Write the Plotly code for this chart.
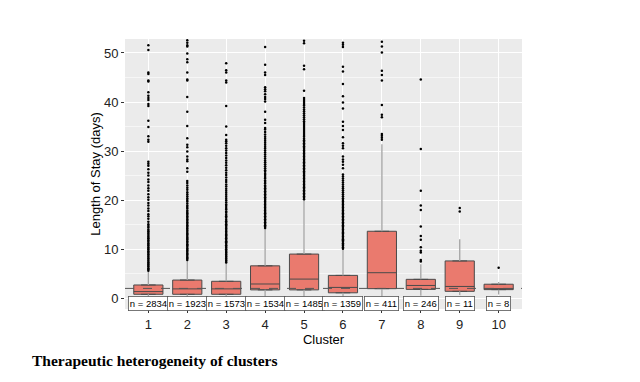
import plotly.graph_objects as go

clusters = [1, 2, 3, 4, 5, 6, 7, 8, 9, 10]
tick_labels = ["1", "2", "3", "4", "5", "6", "7", "8", "9", "10"]
counts = [2834, 1923, 1573, 1534, 1485, 1359, 411, 246, 11, 8]

q1 = [0.8, 0.8, 0.8, 1.7, 1.7, 1.1, 1.95, 1.8, 1.4, 1.75]
median = [1.35, 1.9, 1.9, 2.9, 3.9, 2.2, 5.2, 2.6, 2.4, 1.9]
q3 = [2.7, 3.7, 3.45, 6.6, 9.0, 4.65, 13.65, 3.85, 7.6, 2.85]
lower_whisker = [0.0, 0.0, 0.0, 0.0, 0.0, 0.0, 0.0, 0.5, 0.6, 0.75]
upper_whisker = [5.5, 7.7, 7.2, 14.2, 20.0, 10.0, 31.4, 6.9, 12.0, 3.3]

overall_median = 2.0

out_c1 = [5.6, 5.9, 6.1, 6.4, 6.6, 6.9, 7.2, 7.4, 7.7, 8.0, 8.2, 8.5, 8.8, 9.0, 9.3, 9.6, 9.9, 10.1,
          10.4, 10.7, 10.9, 11.2, 11.5, 11.8, 12.1, 12.3, 12.6, 12.9, 13.2, 13.5, 13.7, 14.0, 14.4,
          14.7, 15.1, 15.6, 16.2, 16.7, 17.1, 17.8, 18.3, 18.9, 19.4, 20.1, 20.6, 21.2, 21.9, 22.4,
          23.0, 23.7, 24.2, 25.0, 25.6, 26.3, 27.0, 27.4, 27.8, 31.9, 32.3, 33.0, 34.9, 36.2, 39.2,
          39.6, 40.4, 40.8, 41.3, 42.0, 44.2, 44.4, 45.7, 46.0, 50.6, 51.6]
out_c2 = [7.8, 8.1, 8.3, 8.6, 8.9, 9.1, 9.4, 9.7, 9.9, 10.2, 10.5, 10.8, 11.0, 11.3, 11.6, 11.9,
          12.1, 12.4, 12.7, 13.0, 13.2, 13.5, 13.8, 14.1, 14.3, 14.6, 14.9, 15.2, 15.5, 15.8, 16.1,
          16.4, 16.7, 17.0, 17.3, 17.6, 17.9, 18.3, 18.6, 18.9, 19.3, 19.7, 20.0, 20.4, 20.8, 21.2,
          21.6, 22.1, 22.5, 23.0, 23.5, 23.9, 25.8, 26.5, 27.9, 28.3, 28.9, 29.9, 30.8, 31.3, 32.6,
          35.1, 38.0, 41.0, 44.4, 44.6, 46.0, 48.1, 48.7, 49.9, 51.3, 51.6, 52.1, 52.6]
out_c3 = [7.3, 7.6, 7.8, 8.1, 8.4, 8.6, 8.9, 9.2, 9.4, 9.7, 10.0, 10.3, 10.5, 10.8, 11.1, 11.4,
          11.6, 11.9, 12.2, 12.5, 12.8, 13.0, 13.3, 13.6, 13.9, 14.2, 14.5, 14.8, 15.1, 15.4, 15.7,
          16.0, 16.4, 16.7, 17.0, 17.4, 17.7, 18.1, 18.4, 18.8, 19.1, 19.5, 19.9, 20.3, 20.7, 21.1,
          21.5, 21.9, 22.3, 22.8, 23.2, 23.7, 24.1, 24.6, 25.1, 25.6, 26.1, 26.6, 27.1, 27.6, 28.1,
          28.6, 29.1, 29.6, 30.1, 30.6, 31.1, 31.6, 32.0, 32.3, 33.3, 35.0, 39.2, 44.0, 44.4, 46.0,
          46.5, 47.9]
out_c4 = [14.3, 14.6, 14.9, 15.2, 15.5, 15.8, 16.1, 16.4, 16.7, 17.0, 17.3, 17.6, 17.9, 18.2, 18.5,
          18.8, 19.1, 19.4, 19.7, 20.0, 20.3, 20.6, 20.9, 21.2, 21.5, 21.8, 22.1, 22.4, 22.7, 23.0,
          23.4, 23.7, 24.0, 24.4, 24.7, 25.1, 25.4, 25.8, 26.1, 26.5, 26.9, 27.3, 27.7, 28.1, 28.5,
          28.9, 29.3, 29.7, 30.1, 30.5, 30.9, 31.3, 31.7, 32.1, 32.5, 32.9, 33.4, 33.9, 34.4, 34.7,
          35.7, 36.4, 38.0, 40.1, 40.6, 41.0, 41.6, 42.2, 42.6, 43.0, 45.5, 46.0, 47.6, 51.2]
out_c5 = [20.2, 20.5, 20.8, 21.1, 21.4, 21.7, 22.0, 22.3, 22.6, 22.9, 23.2, 23.5, 23.8, 24.1, 24.4,
          24.7, 25.0, 25.3, 25.6, 25.9, 26.2, 26.5, 26.8, 27.1, 27.4, 27.7, 28.0, 28.3, 28.6, 28.9,
          29.2, 29.5, 29.8, 30.1, 30.4, 30.7, 31.0, 31.3, 31.6, 31.9, 32.2, 32.5, 32.9, 33.3, 33.7,
          34.1, 34.5, 34.9, 35.3, 35.7, 36.1, 36.5, 36.9, 37.3, 37.7, 38.1, 38.5, 38.9, 39.3, 39.6,
          40.0, 40.4, 40.8, 42.3, 46.7, 47.4, 52.0, 52.5]
out_c6 = [10.1, 10.4, 10.7, 10.9, 11.2, 11.5, 11.8, 12.0, 12.3, 12.6, 12.9, 13.2, 13.4, 13.7, 14.0,
          14.3, 14.6, 14.9, 15.2, 15.5, 15.8, 16.1, 16.4, 16.7, 17.0, 17.3, 17.6, 17.9, 18.2, 18.5,
          18.8, 19.1, 19.4, 19.7, 20.0, 20.4, 20.8, 21.2, 21.6, 22.0, 22.4, 22.8, 23.2, 23.6, 24.0,
          24.4, 24.8, 25.2, 26.5, 27.2, 27.8, 28.3, 28.9, 30.6, 31.1, 31.6, 32.8, 34.3, 35.1, 36.0,
          38.7, 39.9, 41.2, 43.7, 46.2, 47.2, 51.2, 51.7, 52.1]
out_c7 = [32.3, 32.7, 33.1, 33.5, 36.9, 37.4, 39.4, 44.4, 45.5, 46.4, 50.1, 51.3, 52.3]
out_c8 = [7.5, 7.8, 9.3, 9.7, 10.4, 11.9, 12.7, 14.6, 18.0, 18.9, 21.9, 30.4, 44.6]
out_c9 = [17.7, 18.4]
out_c10 = [6.2]

outliers = [out_c1, out_c2, out_c3, out_c4, out_c5, out_c6, out_c7, out_c8, out_c9, out_c10]

fig = go.Figure()

# whiskers
wx, wy = [], []
for c, lo, a, b, hi in zip(clusters, lower_whisker, q1, q3, upper_whisker):
    wx += [c, c, None, c, c, None]
    wy += [b, hi, None, a, lo, None]
fig.add_trace(go.Scatter(x=wx, y=wy, mode="lines", line=dict(color="#a3a3a3", width=1.3),
                         hoverinfo="skip", showlegend=False))

# boxes
for c, a, m, b in zip(clusters, q1, median, q3):
    fig.add_trace(go.Box(x=[c], q1=[a], median=[m], q3=[b], lowerfence=[a], upperfence=[b],
                         width=0.75, fillcolor="#EA7A6E", line=dict(color="#4a4a4a", width=1),
                         boxpoints=False, showlegend=False))

# outliers
ox, oy = [], []
for c, pts in zip(clusters, outliers):
    ox += [c] * len(pts)
    oy += pts
fig.add_trace(go.Scatter(x=ox, y=oy, mode="markers",
                         marker=dict(color="black", size=2.5, line=dict(width=0)),
                         showlegend=False, cliponaxis=True))

fig.add_hline(y=overall_median, x0=0, x1=1, line=dict(color="#555555", width=1, dash="dash"),
              layer="above")

for c, n in zip(clusters, counts):
    fig.add_annotation(x=c, y=-1, text=f"n = {n}", showarrow=False,
                       font=dict(family="Liberation Sans, Arial", size=9.5, color="black"),
                       bgcolor="white", bordercolor="#555555", borderwidth=0.8, borderpad=1)

fig.add_annotation(xref="paper", yref="paper", x=-0.239, y=-0.191, xanchor="left", yanchor="middle",
                   text="<b>Therapeutic heterogeneity of clusters</b>", showarrow=False,
                   font=dict(family="Liberation Serif, Times New Roman", size=15.5, color="black"))

# page body adds an 8px offset, so the figure is 632x374 and margins are shifted accordingly
fig.update_layout(
    width=632, height=374,
    margin=dict(l=117, r=118, t=31, b=73),
    paper_bgcolor="white", plot_bgcolor="#EBEBEB",
    font=dict(family="Liberation Sans, Arial", size=13, color="black"),
    showlegend=False,
    xaxis=dict(range=[0.4, 10.6], tickvals=clusters, ticktext=tick_labels,
               showgrid=True, gridcolor="white", gridwidth=1.1, zeroline=False,
               ticks="outside", ticklen=3, tickcolor="#333333",
               tickfont=dict(size=13, color="#222222"),
               title=dict(text="Cluster", font=dict(size=13), standoff=0)),
    yaxis=dict(range=[-2.2, 52.85], tickvals=[0, 10, 20, 30, 40, 50],
               showgrid=True, gridcolor="white", gridwidth=1.1, zeroline=False,
               ticks="outside", ticklen=3, tickcolor="#333333",
               tickfont=dict(size=13, color="#222222"),
               minor=dict(tickvals=[5, 15, 25, 35, 45], showgrid=True, gridcolor="#F6F6F6", gridwidth=0.6),
               title=dict(text="Length of Stay (days)", font=dict(size=13), standoff=0)),
)

fig.write_html("out.html")
